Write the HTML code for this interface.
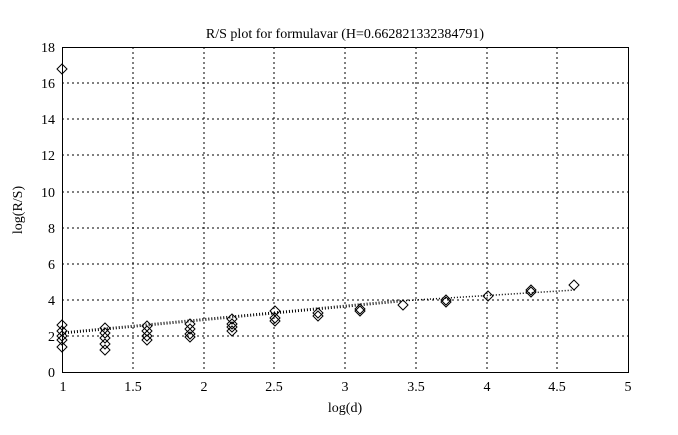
<!DOCTYPE html>
<html><head><style>
body{margin:0;background:#fff;}
svg text{font-family:"Liberation Serif",serif;font-size:14px;fill:#000;}
</style></head><body>
<svg width="678" height="430" xmlns="http://www.w3.org/2000/svg">
<defs><path id="d" d="M0,-5 L5,0 L0,5 L-5,0 Z" fill="none" stroke="#000" stroke-width="1"/></defs>
<rect x="0" y="0" width="678" height="430" fill="#fff"/>
<g stroke="#000" stroke-width="1" stroke-dasharray="2,3">
<line x1="133" y1="47" x2="133" y2="372"/><line x1="204" y1="47" x2="204" y2="372"/>
<line x1="274" y1="47" x2="274" y2="372"/><line x1="345" y1="47" x2="345" y2="372"/>
<line x1="416" y1="47" x2="416" y2="372"/><line x1="487" y1="47" x2="487" y2="372"/>
<line x1="557" y1="47" x2="557" y2="372"/>
<line x1="62" y1="336" x2="628" y2="336"/><line x1="62" y1="300" x2="628" y2="300"/>
<line x1="62" y1="264" x2="628" y2="264"/><line x1="62" y1="228" x2="628" y2="228"/>
<line x1="62" y1="192" x2="628" y2="192"/><line x1="62" y1="155" x2="628" y2="155"/>
<line x1="62" y1="119" x2="628" y2="119"/><line x1="62" y1="83" x2="628" y2="83"/>
</g>
<rect x="62.5" y="47.5" width="566" height="325" fill="none" stroke="#000"/>
<g stroke="#000" stroke-width="3" stroke-dasharray="1,2"><line x1="62" y1="333" x2="400" y2="301"/></g>
<g stroke="#000" stroke-width="1.5" stroke-dasharray="1,2"><line x1="400" y1="301" x2="575" y2="290"/></g>
<g>
<use href="#d" x="62" y="69"/>
<use href="#d" x="62" y="325"/><use href="#d" x="62" y="331"/><use href="#d" x="62" y="336"/><use href="#d" x="62" y="340"/><use href="#d" x="62" y="347"/>
<use href="#d" x="105" y="328"/><use href="#d" x="105" y="333"/><use href="#d" x="105" y="338"/><use href="#d" x="105" y="344"/><use href="#d" x="105" y="350"/>
<use href="#d" x="147" y="326"/><use href="#d" x="147" y="331"/><use href="#d" x="147" y="336"/><use href="#d" x="147" y="340"/>
<use href="#d" x="190" y="324"/><use href="#d" x="190" y="329"/><use href="#d" x="190" y="334"/><use href="#d" x="190" y="337"/>
<use href="#d" x="232" y="319"/><use href="#d" x="232" y="324"/><use href="#d" x="232" y="327"/><use href="#d" x="232" y="331"/>
<use href="#d" x="275" y="311"/><use href="#d" x="275" y="318"/><use href="#d" x="275" y="321"/>
<use href="#d" x="318" y="313"/><use href="#d" x="318" y="316"/>
<use href="#d" x="360" y="309"/><use href="#d" x="360" y="311"/>
<use href="#d" x="403" y="305"/>
<use href="#d" x="446" y="300"/><use href="#d" x="446" y="302"/>
<use href="#d" x="488" y="296"/>
<use href="#d" x="531" y="290"/><use href="#d" x="531" y="292"/>
<use href="#d" x="574" y="285"/>
</g>
<g text-anchor="end">
<text x="55" y="377">0</text><text x="55" y="341">2</text><text x="55" y="305">4</text><text x="55" y="269">6</text>
<text x="55" y="233">8</text><text x="55" y="197">10</text><text x="55" y="160">12</text><text x="55" y="124">14</text>
<text x="55" y="88">16</text><text x="55" y="52">18</text>
</g>
<g text-anchor="middle">
<text x="63" y="391">1</text><text x="133" y="391">1.5</text><text x="204" y="391">2</text><text x="274" y="391">2.5</text>
<text x="345" y="391">3</text><text x="416" y="391">3.5</text><text x="487" y="391">4</text><text x="557" y="391">4.5</text>
<text x="628" y="391">5</text>
<text x="345" y="412">log(d)</text>
<text x="345" y="38">R/S plot for formulavar (H=0.662821332384791)</text>
<text transform="translate(22,210) rotate(-90)">log(R/S)</text>
</g>
</svg>
</body></html>
